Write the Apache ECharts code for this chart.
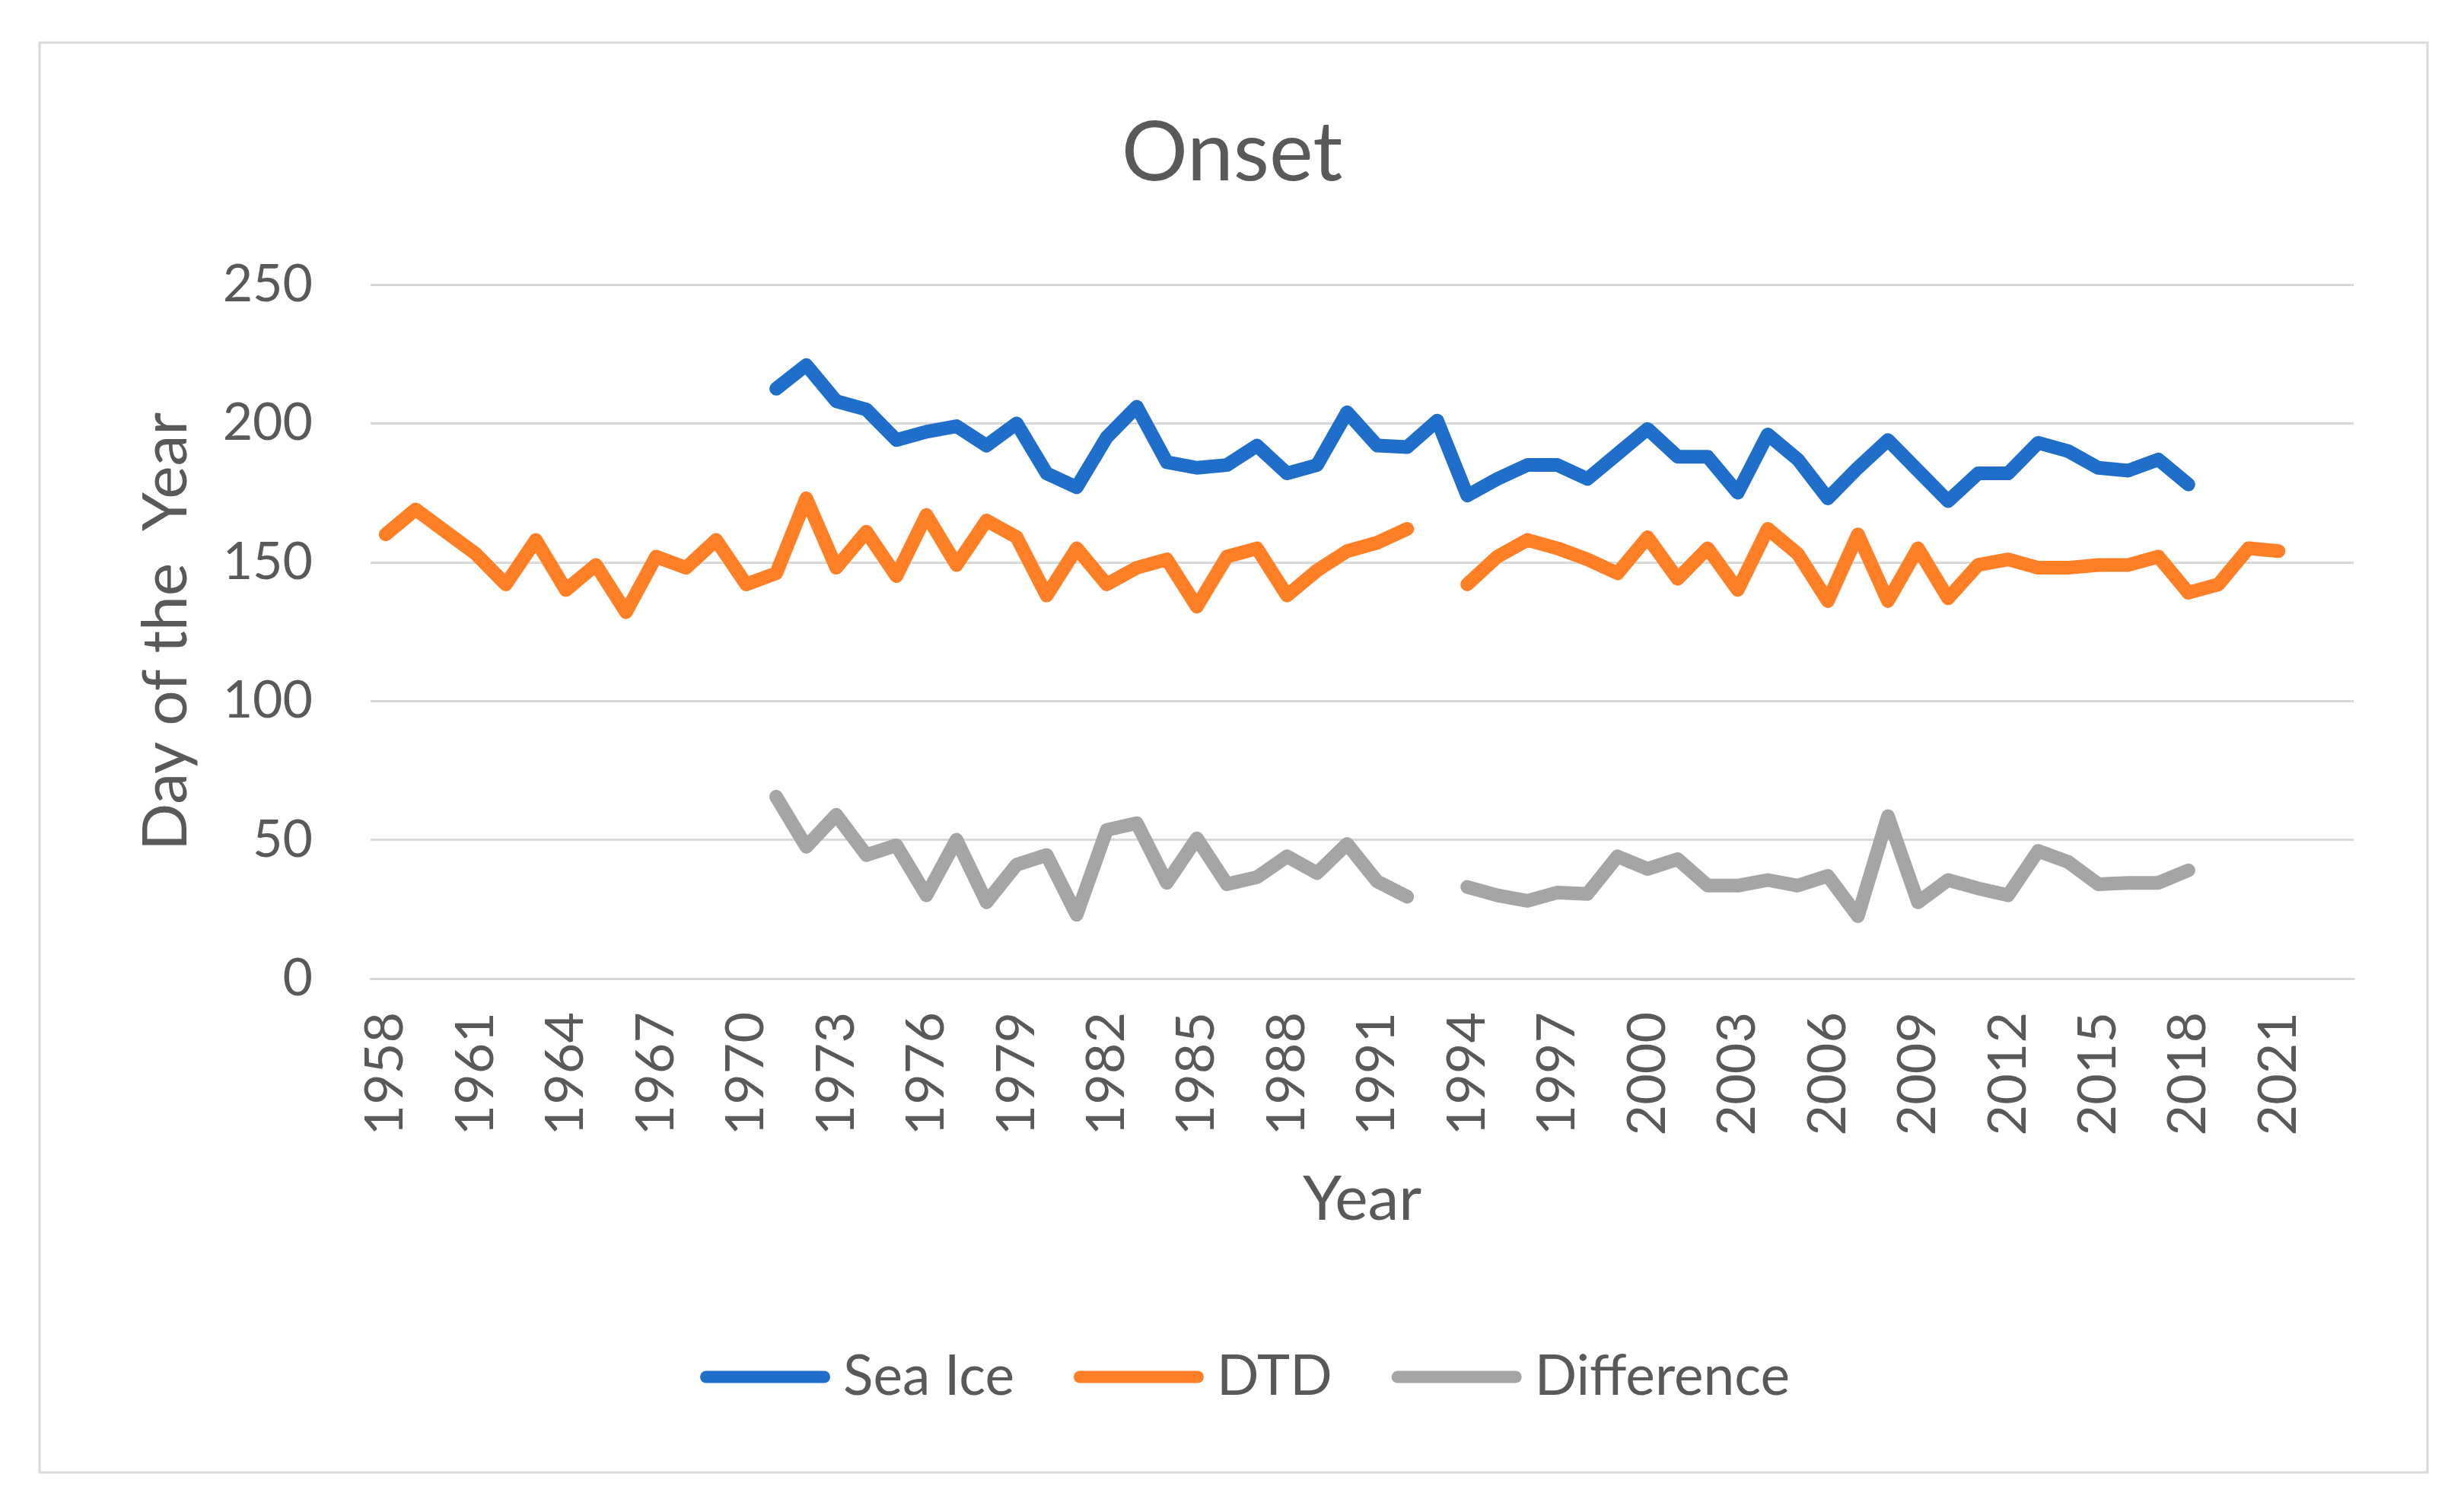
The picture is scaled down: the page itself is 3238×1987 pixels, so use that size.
<!DOCTYPE html>
<html>
<head>
<meta charset="utf-8">
<style>
html,body{margin:0;padding:0;background:#fff;}
#chart{width:3238px;height:1987px;}
</style>
<script src="https://cdn.jsdelivr.net/npm/echarts@6/dist/echarts.min.js"></script>
</head>
<body>
<div id="chart"></div>
<script>
// ---- data ----
var years = [];
for (var y = 1958; y <= 2023; y++) years.push(String(y));

var seaIceYears = [1971,1972,1973,1974,1975,1976,1977,1978,1979,1980,1981,1982,1983,1984,1985,1986,1987,1988,1989,1990,1991,1992,1993,1994,1995,1996,1997,1998,1999,2000,2001,2002,2003,2004,2005,2006,2007,2008,2009,2010,2011,2012,2013,2014,2015,2016,2017,2018];
var seaIce = [212.5,221,208,205,194,197,199,192,200,182,177,195,206,186,184,185,192,182,185,204,192,191.5,201,174,180,185,185,180,189,198,188,188,175,196,187,173,184,194,183,172,182,182,193,190,184,183,187,178];

var dtdYears = [1958,1959,1960,1961,1962,1963,1964,1965,1966,1967,1968,1969,1970,1971,1972,1973,1974,1975,1976,1977,1978,1979,1980,1981,1982,1983,1984,1985,1986,1987,1988,1989,1990,1991,1992,1994,1995,1996,1997,1998,1999,2000,2001,2002,2003,2004,2005,2006,2007,2008,2009,2010,2011,2012,2013,2014,2015,2016,2017,2018,2019,2020,2021];
var dtd = [160,169,161,153,142,158,140,149,132,152,148,158,142,146,173,148,161,145,167,149,165,159,138,155,142,148,151,134,152,155,138,147,154,157,162,142,152,158,155,151,146,159,144,155,140,162,153,136,160,136,155,137,149,151,148,148,149,149,152,139,142,155,154];

var diffYears = [1971,1972,1973,1974,1975,1976,1977,1978,1979,1980,1981,1982,1983,1984,1985,1986,1987,1988,1989,1990,1991,1992,1994,1995,1996,1997,1998,1999,2000,2001,2002,2003,2004,2005,2006,2007,2008,2009,2010,2011,2012,2013,2014,2015,2016,2017,2018];
var difference = [65.5,47.5,59,44.5,48,30,50,27.5,41,44.5,23,53.5,56,34.5,50.5,34,36.5,44,38,48.5,35,29.5,33,30,28,31,30.5,44,39.5,43,33.5,33.5,35.5,33.5,37,22.5,58.5,27.5,35.5,32.5,30,46,42,34,34.5,34.5,39];

var yTicks = [0,50,100,150,200,250];

// map (year list, values) onto full category axis, gaps become null
function onAxis(ys, vals) {
  var out = years.map(function(){ return null; });
  for (var i = 0; i < ys.length; i++) {
    out[years.indexOf(String(ys[i]))] = vals[i];
  }
  return out;
}

var textColor = '#595959';
var gridColor = '#d9d9d9';
var font = 'Lato';
var pill = 'path://M8,0 H163 A8,8 0 0 1 163,16 H8 A8,8 0 0 1 8,0 Z';

var chart = echarts.init(document.getElementById('chart'), null, {renderer: 'canvas'});
chart.setOption({
  backgroundColor: '#ffffff',
  animation: false,
  textStyle: {fontFamily: font, color: textColor},
  title: {
    text: 'Onset',
    left: 'center',
    top: 142,
    textStyle: {fontFamily: font, fontSize: 109, fontWeight: 'normal', color: textColor}
  },
  graphic: [{
    type: 'rect',
    shape: {x: 52, y: 56, width: 3138, height: 1879},
    style: {fill: 'none', stroke: gridColor, lineWidth: 3},
    silent: true
  }],
  legend: {
    left: 915,
    top: 1768,
    itemWidth: 171,
    itemHeight: 18,
    itemGap: 78,
    textStyle: {fontFamily: font, fontSize: 73, color: textColor, padding: [0, 0, 0, 12]},
    data: [
      {name: 'Sea Ice', icon: pill},
      {name: 'DTD', icon: pill},
      {name: 'Difference', icon: pill}
    ]
  },
  grid: {left: 487, right: 145, top: 374, bottom: 701},
  xAxis: {
    type: 'category',
    data: years,
    boundaryGap: true,
    name: 'Year',
    nameLocation: 'middle',
    nameGap: 250,
    nameTextStyle: {fontFamily: font, fontSize: 82, color: textColor},
    axisLine: {show: true, lineStyle: {color: gridColor, width: 3}},
    axisTick: {show: false},
    axisLabel: {interval: 2, rotate: 90, margin: 44, fontFamily: font, fontSize: 70, color: textColor}
  },
  yAxis: {
    type: 'value',
    min: yTicks[0],
    max: yTicks[yTicks.length - 1],
    interval: 50,
    name: 'Day of the  Year',
    nameLocation: 'middle',
    nameRotate: 90,
    nameGap: 227,
    nameTextStyle: {fontFamily: font, fontSize: 82, color: textColor},
    axisLine: {show: false},
    axisTick: {show: false},
    splitLine: {lineStyle: {color: gridColor, width: 3}},
    axisLabel: {margin: 76, fontFamily: font, fontSize: 68, color: textColor}
  },
  series: [
    {
      name: 'Sea Ice', type: 'line', data: onAxis(seaIceYears, seaIce),
      symbol: 'none', connectNulls: false, color: '#1f6fca',
      lineStyle: {width: 18, color: '#1f6fca', cap: 'round', join: 'round'}
    },
    {
      name: 'DTD', type: 'line', data: onAxis(dtdYears, dtd),
      symbol: 'none', connectNulls: false, color: '#ff7f27',
      lineStyle: {width: 18, color: '#ff7f27', cap: 'round', join: 'round'}
    },
    {
      name: 'Difference', type: 'line', data: onAxis(diffYears, difference),
      symbol: 'none', connectNulls: false, color: '#a5a5a5',
      lineStyle: {width: 18, color: '#a5a5a5', cap: 'round', join: 'round'}
    }
  ]
});
</script>
</body>
</html>
